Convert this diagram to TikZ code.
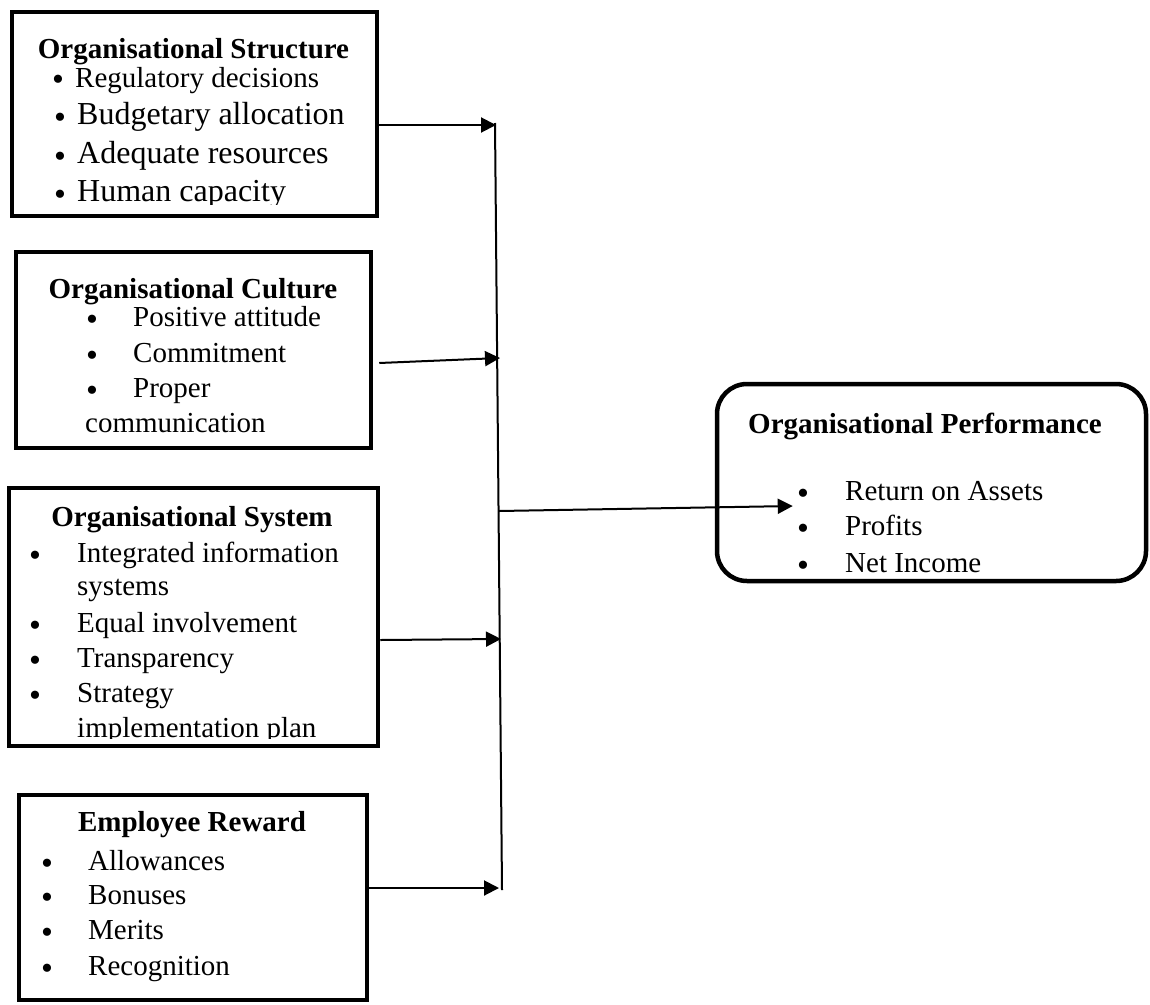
\documentclass[tikz,border=0pt]{standalone}
\usepackage{fontspec}
\setmainfont{Liberation Serif}
\usetikzlibrary{arrows.meta}

\tikzset{
  frame/.style={draw, line width=4.5pt, inner sep=0pt},
  head/.style={font=\fontsize{29}{35}\selectfont\bfseries, anchor=base, inner sep=0pt},
  item/.style={font=\fontsize{29}{35}\selectfont, anchor=base west, inner sep=0pt},
  bigitem/.style={item, font=\fontsize{32}{38}\selectfont},
  dot/.style={item, font=\fontsize{34}{34}\selectfont, yshift=-4pt},
  link/.style={line width=2pt, -{Triangle[length=15pt,width=15pt]}}
}

\begin{document}
\begin{tikzpicture}[x=1pt,y=-1pt]
\useasboundingbox (0,0) rectangle (1150,1004);

% boxes
\node[frame, minimum width=365pt, minimum height=204pt] (struct) at (194.5,114) {};
\node[frame, minimum width=355pt, minimum height=196pt] (cult) at (193.5,350) {};
\node[frame, minimum width=369pt, minimum height=258pt] (sys) at (193.5,617) {};
\node[frame, minimum width=348pt, minimum height=205pt] (rew) at (193,897.5) {};
\node[frame, rounded corners=30pt, minimum width=429pt, minimum height=197pt] (perf) at (931.5,482.5) {};

% organisational structure
\node[head] (struct-h) at (193.5,58) {Organisational Structure};
\node[dot] (struct-b1) at (52,86) {\textbullet};
\node[item] (struct-1) at (75,87) {Regulatory decisions};
\begin{scope}
\clip (0,0) rectangle (1150,204);
\foreach \y/\t [count=\i from 2] in {124/Budgetary allocation, 163/Adequate resources, 201/Human capacity}
  {\node[dot] (struct-b\i) at (54,\y) {\textbullet};
   \node[bigitem] (struct-\i) at (77,\y) {\t};}
\end{scope}

% organisational culture
\node[head] (cult-h) at (193,298) {Organisational Culture};
\foreach \y/\t [count=\i] in {326/Positive attitude, 362/Commitment, 397/Proper}
  {\node[dot] (cult-b\i) at (86,\y) {\textbullet};
   \node[item] (cult-\i) at (133,\y) {\t};}
\node[item] (cult-4) at (85,432) {communication};

% organisational system
\node[head] (sys-h) at (192,526) {Organisational System};
\foreach \y in {562,632,667,702}
  \node[dot] at (29,\y) {\textbullet};
\node[item] (sys-1) at (77,562) {Integrated information};
\node[item] (sys-2) at (77,595) {systems};
\node[item] (sys-3) at (77,632) {Equal involvement};
\node[item] (sys-4) at (77,667) {Transparency};
\node[item] (sys-5) at (77,702) {Strategy};
\begin{scope}
\clip (0,0) rectangle (1150,738);
\node[item] (sys-6) at (77,737) {implementation plan};
\end{scope}

% employee reward
\node[head] (rew-h) at (192,831) {Employee Reward};
\foreach \y/\t [count=\i] in {870/Allowances, 904/Bonuses, 939/Merits, 975/Recognition}
  {\node[dot] (rew-b\i) at (41,\y) {\textbullet};
   \node[item] (rew-\i) at (88,\y) {\t};}

% organisational performance
\node[head] (perf-h) at (925,433) {Organisational Performance};
\foreach \y/\t [count=\i] in {500/Return on Assets, 535/Profits, 572/Net Income}
  {\node[dot] (perf-b\i) at (797,\y) {\textbullet};
   \node[item] (perf-\i) at (845,\y) {\t};}

% connectors
\coordinate (top) at (495,123);
\coordinate (bot) at (502,890);
\coordinate (b1) at (496,125);
\coordinate (b2) at (500,358);
\coordinate (b3) at (501,639);
\coordinate (b4) at (499,888);
\coordinate (b5) at (499,511);
\draw[line width=2pt] (top) -- (bot);
\draw[link] ([yshift=-11pt]struct.east) -- (b1);
\draw[link] ([xshift=6pt,yshift=-13pt]cult.east) -- (b2);
\draw[link] ([yshift=-23pt]sys.east) -- (b3);
\draw[link] ([yshift=9.5pt]rew.east) -- (b4);
\draw[link] (b5) -- ([xshift=78pt,yshift=-23.5pt]perf.west);
\end{tikzpicture}
\end{document}
